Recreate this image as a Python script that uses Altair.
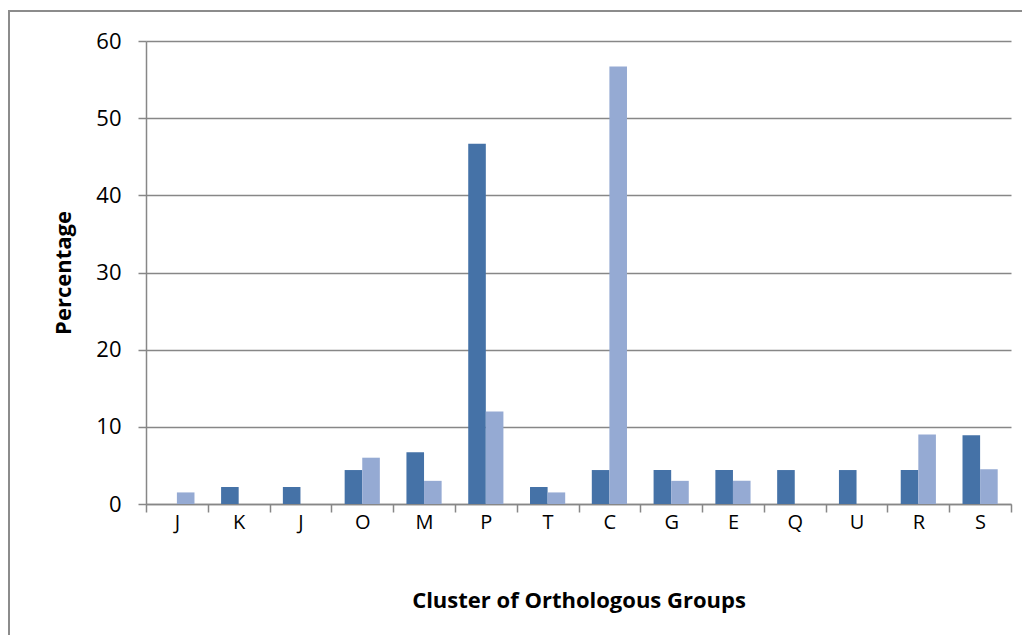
import altair as alt
import pandas as pd

categories = ["J", "K", "J", "O", "M", "P", "T", "C", "G", "E", "Q", "U", "R", "S"]
series_a = [0, 2.2, 2.2, 4.4, 6.7, 46.7, 2.2, 4.4, 4.4, 4.4, 4.4, 4.4, 4.4, 8.9]
series_b = [1.5, 0, 0, 6.0, 3.0, 12.0, 1.5, 56.7, 3.0, 3.0, 0, 0, 9.0, 4.5]
series_names = ["Series 1", "Series 2"]
colors = ["#4572A7", "#95AAD3"]

rows = []
for i, c in enumerate(categories):
    rows.append({"idx": i, "cat": c, "series": series_names[0], "value": series_a[i]})
    rows.append({"idx": i, "cat": c, "series": series_names[1], "value": series_b[i]})
df = pd.DataFrame(rows)

label_expr = "[" + ",".join("'" + c + "'" for c in categories) + "][datum.value]"

FONT = "Open Sans"
GRAY = "#878787"

bars = alt.Chart(df).mark_bar().encode(
    x=alt.X(
        "idx:O",
        scale=alt.Scale(paddingInner=0, paddingOuter=0),
        axis=alt.Axis(
            title="Cluster  of Orthologous Groups",
            labelExpr=label_expr,
            labelAngle=0,
            tickBand="extent",
            tickSize=8,
            tickColor=GRAY,
            tickWidth=1.5,
            domainColor=GRAY,
            domainWidth=1.5,
            labelFont=FONT,
            labelFontSize=20,
            labelColor="black",
            labelPadding=0,
            titleFont=FONT,
            titleFontSize=22,
            titleFontWeight="bold",
            titleColor="black",
            titlePadding=58,
            grid=False,
        ),
    ),
    xOffset=alt.XOffset(
        "series:N",
        scale=alt.Scale(paddingInner=0, paddingOuter=0.756),
    ),
    y=alt.Y(
        "value:Q",
        scale=alt.Scale(domain=[0, 60], nice=False),
        axis=alt.Axis(
            title="Percentage",
            values=[0, 10, 20, 30, 40, 50, 60],
            tickSize=8,
            tickColor=GRAY,
            tickWidth=1.5,
            domainColor=GRAY,
            domainWidth=1.5,
            gridColor=GRAY,
            gridWidth=1.3,
            labelFont=FONT,
            labelFontSize=22,
            labelColor="black",
            labelPadding=17,
            titleFont=FONT,
            titleFontSize=22,
            titleFontWeight="bold",
            titleColor="black",
            titlePadding=20,
        ),
    ),
    color=alt.Color(
        "series:N",
        scale=alt.Scale(domain=series_names, range=colors),
        legend=None,
    ),
)

border = alt.Chart(pd.DataFrame({"a": [0]})).mark_rect(
    fill=None, stroke="#8c8c8c", strokeWidth=2
).encode(
    x=alt.value(-137),
    x2=alt.value(1000),
    y=alt.value(-30),
    y2=alt.value(800),
)

chart = alt.layer(border, bars).properties(
    width=865,
    height=463,
    autosize=alt.AutoSizeParams(type="none"),
    padding={"left": 138, "top": 33, "right": 11, "bottom": 131},
).configure_view(stroke=None)

chart.save("out.html", embed_options={"renderer": "svg", "actions": False})
